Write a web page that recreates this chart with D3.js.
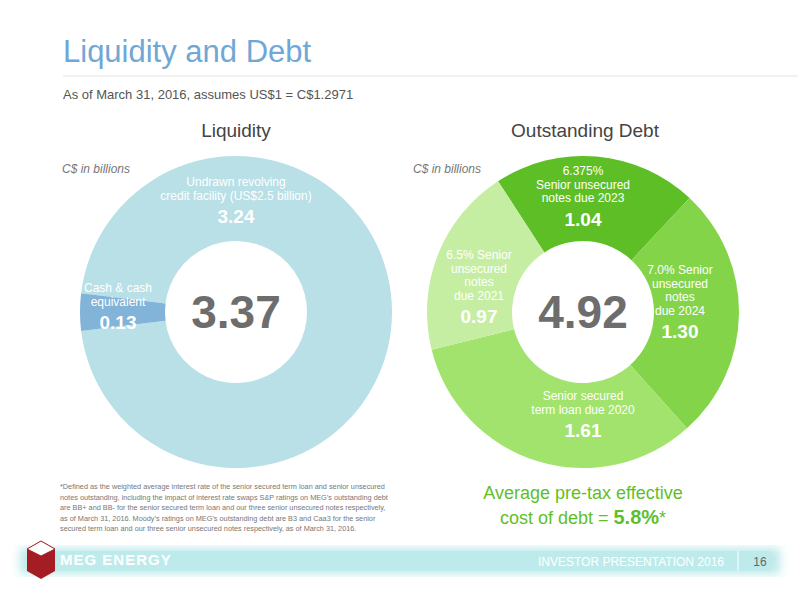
<!DOCTYPE html>
<html><head><meta charset="utf-8">
<script src="https://cdn.jsdelivr.net/npm/d3@7"></script>
<style>body{margin:0;background:#fff;font-family:Arial,"Liberation Sans",sans-serif}</style>
</head><body><svg id="c" width="798" height="600"></svg>
<script>
const liqLabels=[["Undrawn revolving","credit facility (US$2.5 billion)"],["Cash & cash","equivalent"]];
const liqValues=[3.24,0.13];
const liqColors=["#b9e0e6","#82b3d9"];
const debtLabels=[["6.375%","Senior unsecured","notes due 2023"],["7.0% Senior","unsecured","notes","due 2024"],["Senior secured","term loan due 2020"],["6.5% Senior","unsecured","notes","due 2021"]];
const debtValues=[1.04,1.30,1.61,0.97];
const debtColors=["#5dbf25","#84d44a","#a1e36d","#c5eea3"];
const liqTotal="3.37", debtTotal="4.92";

const svg=d3.select("#c");
svg.append("text").attr("x",63).attr("y",62).attr("fill","#6fa7d6").attr("font-size",31).text("Liquidity and Debt");
svg.append("line").attr("x1",63).attr("x2",798).attr("y1",76).attr("y2",76).attr("stroke","#e3e3e3");
svg.append("text").attr("x",63).attr("y",99).attr("fill","#555").attr("font-size",13).text("As of March 31, 2016, assumes US$1 = C$1.2971");
svg.append("text").attr("x",236).attr("y",137).attr("text-anchor","middle").attr("fill","#444").attr("font-size",19).text("Liquidity");
svg.append("text").attr("x",585).attr("y",137).attr("text-anchor","middle").attr("fill","#444").attr("font-size",19).text("Outstanding Debt");
[[62,"#777"],[413,"#777"]].forEach(([x,c])=>svg.append("text").attr("x",x).attr("y",173).attr("fill",c).attr("font-size",12).attr("font-style","italic").text("C$ in billions"));

function donut(cx,cy,vals,cols,start,total,labelPos,labels){
  const pie=d3.pie().sort(null).startAngle(start).endAngle(start+2*Math.PI);
  const arc=d3.arc().innerRadius(71).outerRadius(156);
  const g=svg.append("g").attr("transform",`translate(${cx},${cy})`);
  g.selectAll("path").data(pie(vals)).join("path").attr("d",arc).attr("fill",(d,i)=>cols[i]);
  g.append("text").attr("y",16).attr("text-anchor","middle").attr("fill","#6d6d6d").attr("font-size",46).attr("font-weight","bold").text(total);
  vals.forEach((v,i)=>{
    const [x,y]=labelPos[i];
    const t=g.append("text").attr("text-anchor","middle").attr("fill","#fff");
    labels[i].forEach((l,j)=>t.append("tspan").attr("x",x).attr("y",y+j*13.5).attr("font-size",12).text(l));
    t.append("tspan").attr("x",x).attr("y",y+labels[i].length*13.5+10).attr("font-size",19).attr("font-weight","bold").text(v.toFixed(2));
  });
}
donut(236,312,liqValues,liqColors,-Math.PI/2+0.12,liqTotal,[[0,-126],[-118,-20]],liqLabels);
donut(583,312,debtValues,debtColors,-33*Math.PI/180,debtTotal,[[0,-137],[97,-38],[0,88],[-104,-53]],debtLabels);

const foot=["*Defined as the weighted average interest rate of the senior secured term loan and senior unsecured","notes outstanding, including the impact of interest rate swaps S&P ratings on MEG’s outstanding debt","are BB+ and BB- for the senior secured term loan and our three senior unsecured notes respectively,","as of March 31, 2016. Moody’s ratings on MEG’s outstanding debt are B3 and Caa3 for the senior","secured term loan and our three senior unsecured notes respectively, as of March 31, 2016."];
foot.forEach((l,i)=>svg.append("text").attr("x",60).attr("y",489+i*10.5).attr("font-size",7.3).attr("fill","#777").text(l));
svg.append("text").attr("x",583).attr("y",499).attr("text-anchor","middle").attr("fill","#5fbf2a").attr("font-size",18).text("Average pre-tax effective");
const t2=svg.append("text").attr("x",583).attr("y",524).attr("text-anchor","middle").attr("fill","#5fbf2a").attr("font-size",18);
t2.append("tspan").text("cost of debt = ");t2.append("tspan").attr("font-weight","bold").attr("font-size",20).text("5.8%");t2.append("tspan").text("*");

const defs=svg.append("defs");const f=defs.append("filter").attr("id","bl");f.append("feGaussianBlur").attr("stdDeviation",5);
svg.append("rect").attr("x",20).attr("y",548).attr("width",760).attr("height",26).attr("fill","#bde9ea").attr("filter","url(#bl)");
svg.append("rect").attr("x",30).attr("y",551).attr("width",740).attr("height",20).attr("fill","#bdebeb");
svg.append("path").attr("d","M27,549 L41,541 L55,549 L55,571 L41,579 L27,571Z").attr("fill","#a51d24");
svg.append("path").attr("d","M27,549 L41,541 L55,549 L41,556Z").attr("fill","#fff").attr("stroke","#a51d24");
svg.append("text").attr("x",60).attr("y",565).attr("fill","#fff").attr("font-size",15).attr("font-weight","bold").attr("letter-spacing",1).text("MEG ENERGY");
svg.append("text").attr("x",724).attr("y",566).attr("text-anchor","end").attr("fill","#fff").attr("font-size",12).text("INVESTOR PRESENTATION 2016");
svg.append("line").attr("x1",738).attr("x2",738).attr("y1",551).attr("y2",571).attr("stroke","#fff");
svg.append("text").attr("x",760).attr("y",566).attr("text-anchor","middle").attr("fill","#666").attr("font-size",12).text("16");
</script></body></html>
